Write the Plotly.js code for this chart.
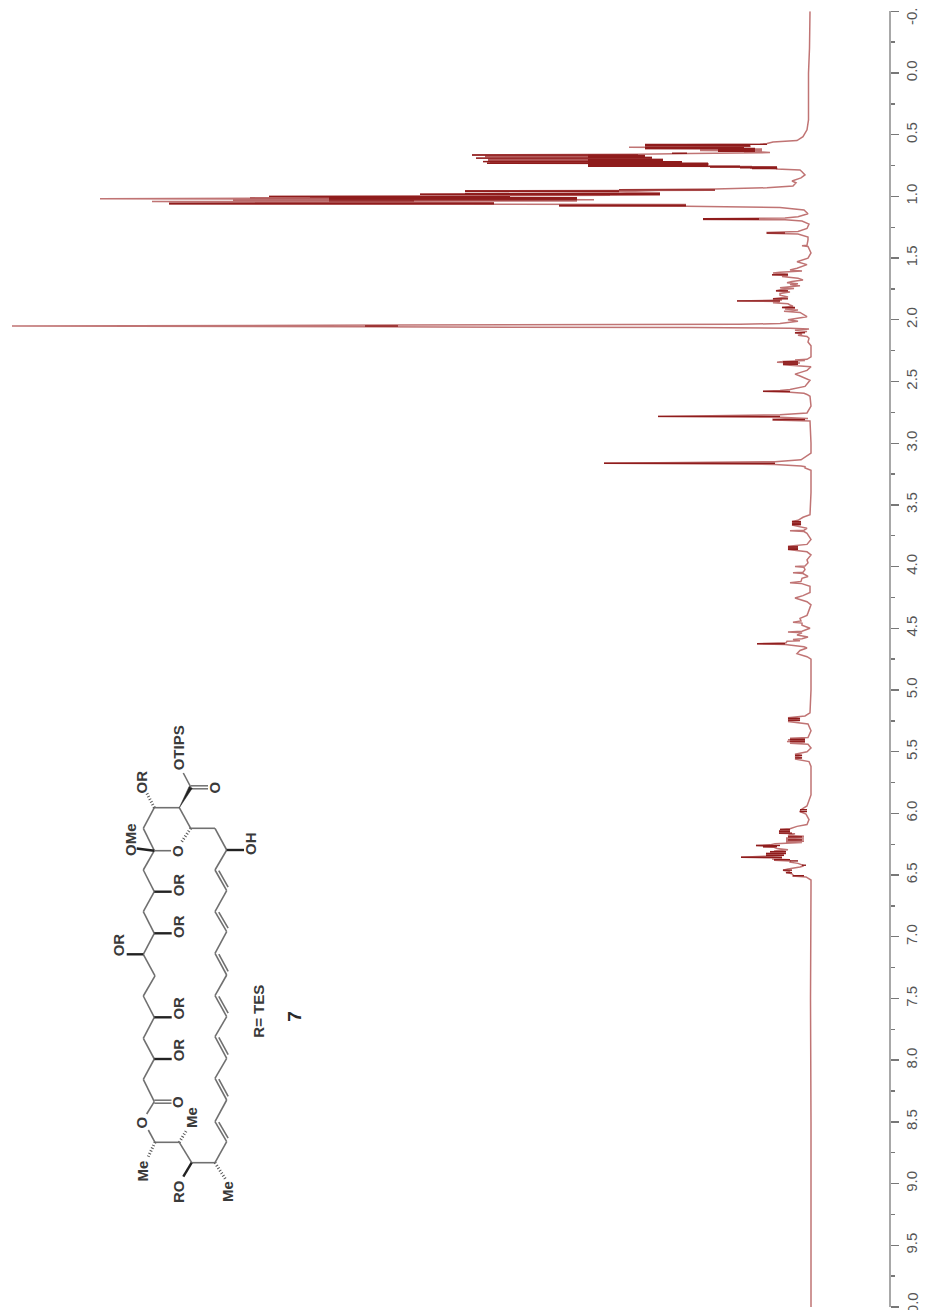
<!DOCTYPE html>
<html>
<head>
<meta charset="utf-8">
<script src="https://cdn.plot.ly/plotly-3.0.1.min.js"></script>
<style>
html,body{margin:0;padding:0;background:#fff;overflow:hidden}
#chart{width:925px;height:1310px}
</style>
</head>
<body>
<div id="chart"></div>
<script>
// Spectrum, as [chemical shift in ppm, signal intensity]
const upfield = [[-0.5,0],[-0.2,0.5],[0,1.5],[0.2,1.5],[0.38,1.5],[0.46,3],[0.516,7],[0.548,13],[0.56,37]];
const group06 = [[0.572,43],[0.578,50],[0.583,165],[0.589,60],[0.596,60],[0.602,181],[0.608,66],[0.612,165],[0.616,48],[0.62,110],[0.624,48],[0.628,110],[0.632,48],[0.636,66],[0.64,48],[0.645,40]];
const group07 = [[0.652,120],[0.658,172],[0.664,338],[0.668,172],[0.672,222],[0.676,165],[0.68,222],[0.684,158],[0.69,334],[0.693,158],[0.697,222],[0.701,147],[0.705,222],[0.709,147],[0.718,327],[0.721,128],[0.725,222],[0.728,128],[0.731,323],[0.735,102],[0.741,102],[0.745,222],[0.749,102],[0.753,222],[0.757,58],[0.761,100],[0.765,33],[0.769,60],[0.773,33],[0.778,33],[0.786,10]];
const group10 = [[0.8,8],[0.826,5],[0.85,9],[0.875,18],[0.89,14],[0.915,17],[0.93,43],[0.94,95],[0.947,191],[0.951,95],[0.955,345],[0.96,191],[0.97,150],[0.982,390],[0.988,150],[0.994,300],[1.0,541],[1.006,320],[1.012,400],[1.02,710],[1.024,320],[1.028,216],[1.032,400],[1.037,233],[1.042,658],[1.05,316],[1.06,641],[1.066,124],[1.075,251],[1.08,124],[1.09,30],[1.11,6],[1.14,2]];
const group12 = [[1.165,12],[1.175,25],[1.178,51],[1.181,107],[1.184,51],[1.187,107],[1.19,25],[1.2,8],[1.225,1],[1.26,3],[1.285,12],[1.293,43],[1.298,43],[1.305,12],[1.33,2],[1.353,2],[1.395,3],[1.4,8],[1.405,2],[1.458,-1],[1.5,2]];
const group16 = [[1.53,13],[1.553,3],[1.582,13],[1.596,20],[1.604,8],[1.615,30],[1.62,37],[1.628,22],[1.635,38],[1.642,22],[1.65,28],[1.664,12],[1.677,7],[1.69,18],[1.7,23],[1.707,12],[1.715,20],[1.725,10],[1.74,30],[1.747,16],[1.755,28],[1.765,34],[1.775,20],[1.787,30],[1.8,30],[1.815,22],[1.83,37],[1.84,28],[1.847,73],[1.852,30],[1.862,37],[1.87,22],[1.88,20],[1.89,17],[1.9,28],[1.906,15],[1.912,25],[1.92,12],[1.93,26],[1.94,10],[1.975,3],[2.0,22],[2.012,12],[2.03,30]];
const solvent = [[2.037,70],[2.043,415],[2.05,798],[2.057,445],[2.063,120],[2.068,20],[2.075,1]];
const group22 = [[2.085,15],[2.095,3],[2.105,15],[2.115,8],[2.125,12],[2.135,3],[2.15,1],[2.18,2],[2.21,-1],[2.3,-1],[2.32,3],[2.325,15],[2.33,5],[2.338,27],[2.345,33],[2.35,10],[2.355,27],[2.36,12],[2.365,27],[2.38,-1],[2.41,3],[2.44,15],[2.455,10],[2.49,0],[2.51,2],[2.54,5],[2.565,20],[2.572,30],[2.58,47],[2.587,20],[2.595,6],[2.605,3],[2.62,0],[2.7,-1],[2.755,3],[2.77,30],[2.783,152],[2.79,30],[2.8,2],[2.806,37],[2.812,37],[2.82,0]];
const group31 = [[3.0,-1],[3.08,-1],[3.135,9],[3.15,35],[3.162,206],[3.172,35],[3.185,9],[3.19,5],[3.2,5],[3.22,-1]];
const group37 = [[3.4,-1],[3.58,0],[3.6,7],[3.625,12],[3.635,18],[3.64,9],[3.648,18],[3.656,9],[3.664,18],[3.69,3],[3.705,6],[3.71,20],[3.716,6],[3.73,3],[3.78,-1],[3.82,3],[3.835,22],[3.84,12],[3.848,22],[3.855,12],[3.862,22],[3.88,3],[3.905,-1],[3.945,3],[3.97,2],[3.995,5],[4.0,15],[4.006,6],[4.025,5],[4.045,7],[4.05,17],[4.056,7],[4.08,2],[4.095,8],[4.12,9],[4.13,20],[4.136,9],[4.16,0],[4.21,0],[4.235,7],[4.255,15],[4.285,3],[4.31,-1],[4.375,2],[4.395,3],[4.42,10],[4.44,9],[4.45,17],[4.458,8],[4.475,8],[4.5,0]];
const group46 = [[4.523,8],[4.53,22],[4.537,8],[4.555,13],[4.57,2],[4.585,8],[4.59,17],[4.6,10],[4.605,23],[4.618,24],[4.625,53],[4.632,25],[4.65,6],[4.66,3],[4.68,10],[4.705,13],[4.73,3],[4.75,-1]];
const group52 = [[5.0,-1],[5.185,0],[5.21,5],[5.225,22],[5.232,10],[5.24,22],[5.248,10],[5.255,22],[5.275,2],[5.33,-1],[5.385,2],[5.39,20],[5.396,5],[5.403,22],[5.41,5],[5.417,23],[5.424,5],[5.431,20],[5.44,2],[5.47,-1],[5.5,3],[5.52,15],[5.53,8],[5.54,15],[5.55,8],[5.56,15],[5.58,1],[5.62,-1]];
const group62 = [[5.85,-1],[5.94,3],[5.96,7],[5.97,9],[5.985,10],[6.005,4],[6.05,1],[6.09,3],[6.105,13],[6.125,20],[6.13,30],[6.135,20],[6.14,31],[6.145,20],[6.15,31],[6.155,20],[6.16,31],[6.165,15],[6.18,22],[6.185,6],[6.19,22],[6.195,6],[6.2,24],[6.205,6],[6.21,24],[6.215,6],[6.22,24],[6.225,6],[6.23,24],[6.235,8],[6.245,35],[6.255,40],[6.26,54],[6.265,44],[6.27,47],[6.275,36],[6.285,33],[6.295,22],[6.305,36],[6.31,24],[6.315,40],[6.32,24],[6.325,44],[6.33,26],[6.335,44],[6.34,28],[6.345,38],[6.355,69],[6.362,28],[6.37,38],[6.375,20],[6.38,36],[6.385,20],[6.395,20],[6.405,12],[6.42,7],[6.428,7],[6.435,10],[6.45,22],[6.46,27],[6.47,20],[6.48,24],[6.49,18],[6.5,17],[6.507,17],[6.515,4],[6.54,-1]];
const downfield = [[6.6,-1],[7.5,-0.5],[8.5,-1],[9.5,-1],[10,-1]];

// Dense, darker parts of the multiplets, as [ppm, lower intensity, upper intensity]
const denseParts = [
 [0.578,43,165],[0.585,60,165],[0.592,60,165],[0.605,66,165],[0.612,55,165],[0.62,55,92],[0.627,55,92],[0.634,55,92],[0.65,123,138],
 [0.664,172,338],[0.668,165,222],[0.676,165,222],[0.684,158,222],[0.69,158,334],[0.7,147,222],[0.708,147,222],[0.718,128,327],[0.724,128,222],[0.731,102,323],[0.74,102,222],[0.748,102,222],[0.756,70,222],[0.762,33,100],[0.768,33,70],[0.775,33,58],
 [0.947,95,191],[0.955,191,345],[0.96,191,345],[0.978,150,345],[0.982,150,390],[1.0,300,541],[1.004,300,500],[1.01,233,481],[1.016,233,481],[1.022,233,481],[1.028,233,481],[1.036,396,481],[1.056,316,641],[1.06,316,641],[1.071,124,251],[1.076,124,251],
 [1.18,51,107],[1.186,51,107],[1.296,25,43],[1.847,30,73],[2.05,412,445],[2.783,30,152],[3.162,35,206],[2.58,20,47],[2.809,5,37],
 [1.635,22,38],[1.765,22,34],[1.83,22,37],[1.9,15,28],[2.105,5,15],[2.34,12,27],[2.35,12,27],[2.36,12,27],
 [3.635,9,18],[3.648,9,18],[3.66,9,18],[3.84,12,22],[3.85,12,22],[3.86,12,22],[4.625,25,53],[5.23,10,22],[5.245,10,22],[5.4,5,20],[5.415,5,20],[5.53,8,15],[5.55,8,15],
 [5.97,3,10],[5.985,3,10],[6.13,20,30],[6.145,20,31],[6.16,18,31],[6.19,8,22],[6.215,8,22],[6.26,30,54],[6.27,33,47],[6.31,24,40],[6.325,24,44],[6.34,26,44],[6.355,28,69],[6.375,20,36],[6.385,12,20],[6.42,4,8],[6.46,18,27],[6.48,18,24],[6.505,6,17]
];
// Medium-strength fill between the closely spaced tips
const mediumParts = [
 [0.672,222,325],[0.68,222,325],[0.698,222,322],[0.706,222,322],[0.712,222,322],[0.724,222,320],[0.99,200,300],[1.012,481,560],[1.03,481,577]
];

const segments = [upfield,group06,group07,group10,group12,group16,solvent,group22,group31,group37,group46,group52,group62,downfield];
const shift = segments.flat().map(p => p[0]);
const signal = segments.flat().map(p => p[1]);
const denseShift = denseParts.flatMap(p => [p[0],p[0],null]);
const denseSignal = denseParts.flatMap(p => [p[1],p[2],null]);
const mediumShift = mediumParts.flatMap(p => [p[0],p[0],null]);
const mediumSignal = mediumParts.flatMap(p => [p[1],p[2],null]);

const tickValues = [0,0.5,1,1.5,2,2.5,3,3.5,4,4.5,5,5.5,6,6.5,7,7.5,8,8.5,9,9.5];
const tickLabels = ['0.0','0.5','1.0','1.5','2.0','2.5','3.0','3.5','4.0','4.5','5.0','5.5','6.0','6.5','7.0','7.5','8.0','8.5','9.0','9.5'];
const edgeTickValues = [-0.5,10];
const edgeTickLabels = ['-0.','10.0'];

// Structure drawing in page pixels
const W = 925, H = 1310;
const px = x => x / W, py = y => 1 - y / H;
const skeleton = [
 [[154.3,850.7],[143.3,870],[154.3,891.7],[143.3,911.7],[154.3,933.3],[143.3,954.3],[155,975.8],[143.3,996],[154.3,1017.3],[143.3,1038.3],[154.3,1059],[143.3,1079.3],[154.3,1101.7],[146.7,1114]],
 [[148.3,1130],[155,1142.3],[179.3,1142.3],[191.7,1162.7],[215,1162.7],[226.7,1141.7]],
 [[154.3,850.7],[143.3,828.3],[154.3,807.7],[179.3,807.7],[190.7,828.3],[215,828.3],[226.7,850],[215,870]],
 [[154.3,850.7],[171,850.7]],
 [[190.7,787],[183.3,773]],
 [[226.7,890.7],[215,911.7]],[[226.7,931.7],[215,953.3]],[[226.7,975],[215,995.7]],[[226.7,1016.7],[215,1036.7]],[[226.7,1058.3],[215,1078.3]],[[226.7,1100],[215,1121.7]]
];
const doubleBonds = [
 [[215,870],[226.7,890.7]],[[215,911.7],[226.7,931.7]],[[215,953.3],[226.7,975]],[[215,995.7],[226.7,1016.7]],[[215,1036.7],[226.7,1058.3]],[[215,1078.3],[226.7,1100]],[[215,1121.7],[226.7,1141.7]]
];
const carbonyls = [[[190.7,787.3],[208,787.3]],[[154.3,1101.7],[171.5,1101.7]]];
const boldBonds = [
 [[154.3,850.7],[136.7,848.5]],[[154.3,891.7],[171.7,891.7]],[[154.3,933.3],[171.7,933.3]],[[143.3,954.3],[126.7,954.3]],
 [[154.3,1017.3],[171.7,1017.3]],[[154.3,1059],[171.7,1059]],[[226.7,850],[244,850]],[[191.7,1162.7],[183.3,1176.7]]
];
const wedges = [[[179.3,807.7],[190.7,787.3]]];
const hashes = [
 [[154.3,807.7],[146.7,793]],[[190.7,828.3],[181.7,841.7]],[[215,1162.7],[226,1180]],[[179.3,1142.3],[186.7,1130]],[[155,1142.3],[148.3,1156.7]]
];
const atomLabels = [
 ['OTIPS',178.3,748],['O',214.3,787.3],['OR',141.7,781.7],['OMe',130.7,839.3],['O',177.3,850.7],['OH',250,844],
 ['OR',178.3,885],['OR',178.3,926.7],['OR',118.3,945],['OR',178.3,1008.3],['OR',178.3,1050],['O',177.3,1101.7],
 ['O',141.7,1122.7],['Me',191.7,1117.3],['Me',142.7,1170.7],['RO',178.3,1191.7],['Me',227.3,1191.7],['R= TES',259,1011.7]
];

const bondColor = '#707070', heavyColor = '#222', textColor = '#2a2a2a';
const seg = (a,b,color,width,extra) => Object.assign({type:'line',xref:'paper',yref:'paper',x0:px(a[0]),y0:py(a[1]),x1:px(b[0]),y1:py(b[1]),line:{color:color,width:width},layer:'above'},extra||{});
const shapes = [];
skeleton.forEach(chain => { for(let i=0;i<chain.length-1;i++) shapes.push(seg(chain[i],chain[i+1],bondColor,1.6)); });
doubleBonds.forEach(b => {
  shapes.push(seg(b[0],b[1],bondColor,1.6));
  const dx=b[1][0]-b[0][0], dy=b[1][1]-b[0][1], L=Math.hypot(dx,dy), nx=-dy/L*-3, ny=dx/L*-3;
  shapes.push(seg([b[0][0]+nx+dx*0.1,b[0][1]+ny+dy*0.1],[b[1][0]+nx-dx*0.1,b[1][1]+ny-dy*0.1],bondColor,1.6));
});
carbonyls.forEach(b => {
  shapes.push(seg([b[0][0],b[0][1]-1.5],[b[1][0],b[1][1]-1.5],bondColor,1.5));
  shapes.push(seg([b[0][0],b[0][1]+1.5],[b[1][0],b[1][1]+1.5],bondColor,1.5));
});
boldBonds.forEach(b => shapes.push(seg(b[0],b[1],heavyColor,2.4)));
wedges.forEach(b => {
  const dx=b[1][0]-b[0][0], dy=b[1][1]-b[0][1], L=Math.hypot(dx,dy), nx=-dy/L*1.8, ny=dx/L*1.8;
  shapes.push({type:'path',xref:'paper',yref:'paper',layer:'above',fillcolor:heavyColor,line:{color:heavyColor,width:0.5},
    path:`M ${px(b[0][0])} ${py(b[0][1])} L ${px(b[1][0]+nx)} ${py(b[1][1]+ny)} L ${px(b[1][0]-nx)} ${py(b[1][1]-ny)} Z`});
});
hashes.forEach(b => shapes.push(seg(b[0],b[1],'#555',3,{line:{color:'#555',width:3,dash:'1px,2px'}})));

const annotations = atomLabels.map(a => ({
  text:'<b>'+a[0]+'</b>',xref:'paper',yref:'paper',x:px(a[1]),y:py(a[2]),xanchor:'center',yanchor:'middle',showarrow:false,textangle:-90,
  font:{family:'Liberation Sans, Arial, sans-serif',size:15,color:'#3a3a3a'}
}));
annotations.push({text:'<b>7</b>',xref:'paper',yref:'paper',x:px(295),y:py(1016.7),xanchor:'center',yanchor:'middle',showarrow:false,textangle:-90,
  font:{family:'Liberation Sans, Arial, sans-serif',size:19,color:textColor}});
edgeTickValues.forEach((v,i) => annotations.push({text:edgeTickLabels[i],xref:'paper',yref:'paper',x:px(912),y:py(i===0?16:1307.5),xanchor:'center',yanchor:'middle',showarrow:false,textangle:-90,
  font:{family:'Liberation Sans, Arial, sans-serif',size:15,color:'#555'}}));

const trace = {x:signal,y:shift,type:'scatter',mode:'lines',line:{color:'#c07474',width:1.5,simplify:false},hoverinfo:'skip'};
const medium = {x:mediumSignal,y:mediumShift,type:'scatter',mode:'lines',connectgaps:false,line:{color:'#a84444',width:1.4,simplify:false},hoverinfo:'skip'};
const dense = {x:denseSignal,y:denseShift,type:'scatter',mode:'lines',connectgaps:false,line:{color:'#8f1c1c',width:1.4,simplify:false},hoverinfo:'skip'};

const layout = {
  width:W,height:H,margin:{l:0,r:0,t:0,b:0},paper_bgcolor:'#fff',plot_bgcolor:'#fff',showlegend:false,
  xaxis:{visible:false,range:[810,-115],domain:[0,1],fixedrange:true},
  yaxis:{
    range:[10,-0.5],domain:[1-1307/H,1-11.3/H],anchor:'free',position:890/W,side:'right',
    showgrid:false,zeroline:false,showline:true,linecolor:'#a8a8a8',linewidth:2,
    tickmode:'array',tickvals:tickValues.concat(edgeTickValues),ticktext:tickLabels.concat(['','']),ticks:'outside',ticklen:8,tickwidth:1.4,tickcolor:'#777',
    tickangle:-90,ticklabelstandoff:0,tickfont:{family:'Liberation Sans, Arial, sans-serif',size:15,color:'#555'},
    minor:{tickmode:'linear',tick0:0,dtick:0.25,ticks:'outside',ticklen:4,tickwidth:1.4,tickcolor:'#777',showgrid:false},
    fixedrange:true
  },
  shapes:shapes,annotations:annotations
};
Plotly.newPlot('chart',[trace,medium,dense],layout,{displayModeBar:false,staticPlot:true});
</script>
</body>
</html>
